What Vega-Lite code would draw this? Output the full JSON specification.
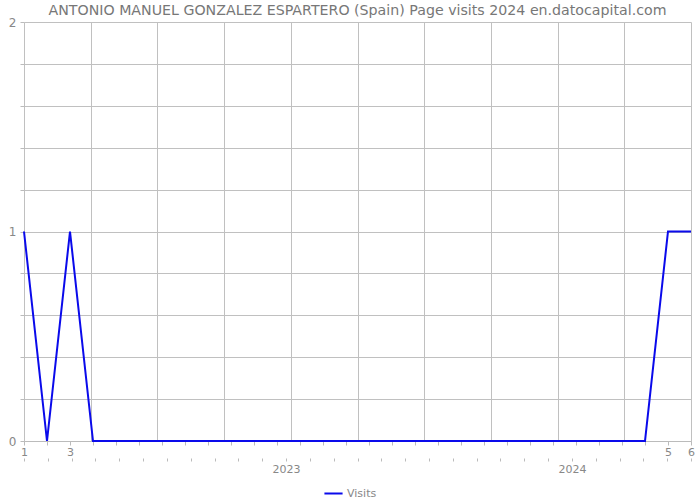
{
  "$schema": "https://vega.github.io/schema/vega-lite/v6.json",
  "width": 667,
  "height": 419,
  "autosize": {"type": "none"},
  "padding": {"left": 24, "top": 22, "right": 9, "bottom": 59},
  "background": "white",
  "title": {
    "text": "ANTONIO MANUEL GONZALEZ ESPARTERO (Spain) Page visits 2024 en.datocapital.com",
    "font": "DejaVu Sans",
    "fontSize": 14.2,
    "fontWeight": "normal",
    "color": "#777777",
    "offset": -2,
    "anchor": "middle"
  },
  "config": {
    "view": {"stroke": null},
    "axis": {"labelFont": "DejaVu Sans", "labelColor": "#888888", "labelFontSize": 11, "tickColor": "#bbbbbb", "domainColor": "#bbbbbb", "gridColor": "#c0c0c0"}
  },
  "data": {
    "values": [
      {"month": "2022-01", "visits": 1},
      {"month": "2022-02", "visits": 0},
      {"month": "2022-03", "visits": 1},
      {"month": "2022-04", "visits": 0},
      {"month": "2022-05", "visits": 0},
      {"month": "2022-06", "visits": 0},
      {"month": "2022-07", "visits": 0},
      {"month": "2022-08", "visits": 0},
      {"month": "2022-09", "visits": 0},
      {"month": "2022-10", "visits": 0},
      {"month": "2022-11", "visits": 0},
      {"month": "2022-12", "visits": 0},
      {"month": "2023-01", "visits": 0},
      {"month": "2023-02", "visits": 0},
      {"month": "2023-03", "visits": 0},
      {"month": "2023-04", "visits": 0},
      {"month": "2023-05", "visits": 0},
      {"month": "2023-06", "visits": 0},
      {"month": "2023-07", "visits": 0},
      {"month": "2023-08", "visits": 0},
      {"month": "2023-09", "visits": 0},
      {"month": "2023-10", "visits": 0},
      {"month": "2023-11", "visits": 0},
      {"month": "2023-12", "visits": 0},
      {"month": "2024-01", "visits": 0},
      {"month": "2024-02", "visits": 0},
      {"month": "2024-03", "visits": 0},
      {"month": "2024-04", "visits": 0},
      {"month": "2024-05", "visits": 1},
      {"month": "2024-06", "visits": 1}
    ]
  },
  "layer": [
    {
      "mark": {"type": "point", "opacity": 0},
      "encoding": {
        "x": {
          "field": "visits", "type": "quantitative",
          "scale": {"domain": [0, 10], "nice": false, "zero": false},
          "axis": {"orient": "bottom", "values": [0,1,2,3,4,5,6,7,8,9,10], "grid": true, "labels": false, "ticks": false, "domain": false, "title": null}
        }
      }
    },
    {
      "mark": {"type": "point", "opacity": 0},
      "encoding": {
        "x": {
          "field": "visits", "type": "quantitative",
          "scale": {"domain": [0, 28], "nice": false, "zero": false},
          "axis": {"orient": "bottom", "offset": 17, "values": [0,1,2,3,4,5,6,7,8,9,10,11,12,13,14,15,16,17,18,19,20,21,22,23,24,25,26,27,28], "labelExpr": "datum.value == 11 ? '2023' : datum.value == 23 ? '2024' : ''", "grid": false, "domain": false, "tickSize": 3, "labelPadding": 2, "title": null, "labelOverlap": false}
        }
      }
    },
    {
      "mark": {"type": "line", "color": "#0a0aeb", "strokeWidth": 2},
      "encoding": {
        "x": {
          "field": "month", "type": "ordinal",
          "scale": {"type": "point", "padding": 0},
          "axis": {"orient": "bottom", "labelAngle": 0, "grid": false, "tickSize": 4, "labelPadding": 1, "domain": true, "title": null, "labelOverlap": false,
            "labelExpr": "datum.value == '2022-01' ? '1' : datum.value == '2022-03' ? '3' : datum.value == '2024-05' ? '5' : datum.value == '2024-06' ? '6' : ''"}
        },
        "y": {
          "field": "visits", "type": "quantitative",
          "scale": {"domain": [0, 2], "nice": false},
          "axis": {"values": [0,0.2,0.4,0.6,0.8,1,1.2,1.4,1.6,1.8,2], "labelExpr": "datum.value == 0 ? '0' : datum.value == 1 ? '1' : datum.value == 2 ? '2' : ''", "grid": true, "tickSize": 4, "domain": false, "title": null, "labelPadding": 4, "labelFontSize": 12}
        },
        "color": {
          "datum": "Visits",
          "scale": {"range": ["#0a0aeb"]},
          "legend": {"title": null, "orient": "none", "legendX": 299, "legendY": 461, "direction": "horizontal", "symbolType": "stroke", "symbolStrokeWidth": 2, "symbolSize": 330, "labelOffset": 3, "labelFont": "DejaVu Sans", "labelColor": "#888888", "labelFontSize": 11}
        }
      }
    }
  ],
  "resolve": {"scale": {"x": "independent"}, "axis": {"x": "independent"}}
}
